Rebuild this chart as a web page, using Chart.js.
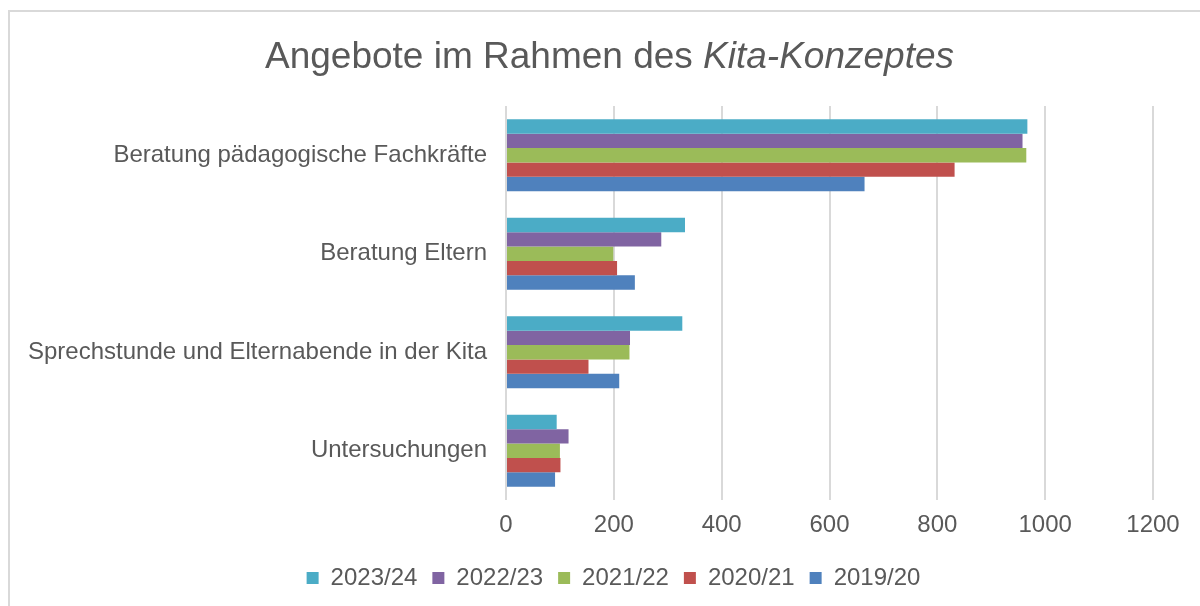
<!DOCTYPE html>
<html lang="de">
<head>
    <meta charset="UTF-8">
    <title>Angebote im Rahmen des Kita-Konzeptes</title>
    <script src="https://cdn.jsdelivr.net/npm/chart.js"></script>
    <style>
        body {
            margin: 0;
            width: 1200px;
            height: 606px;
            overflow: hidden;
            background: #fff;
            font-family: "Liberation Sans", Arial, sans-serif;
        }
        #frame {
            position: absolute;
            left: 8px;
            top: 10px;
            width: 1300px;
            height: 700px;
            border: 2px solid #d9d9d9;
        }
        #title {
            position: absolute;
            left: 0;
            top: 37px;
            width: 1219px;
            text-align: center;
            font-size: 37px;
            line-height: 1;
            color: #595959;
        }
        #chart {
            position: absolute;
            left: 0;
            top: 0;
        }
    </style>
</head>
<body>
    <div id="frame"></div>
    <canvas id="chart" width="1200" height="606"></canvas>
    <div id="title">Angebote im Rahmen des <i>Kita-Konzeptes</i></div>

    <script>
        const categories = [
            'Beratung pädagogische Fachkräfte',
            'Beratung Eltern',
            'Sprechstunde und Elternabende in der Kita',
            'Untersuchungen'
        ];
        const seriesNames = ['2023/24', '2022/23', '2021/22', '2020/21', '2019/20'];
        const values2324 = [967, 332, 327, 94];
        const values2223 = [958, 288, 230, 116];
        const values2122 = [965, 199, 229, 100];
        const values2021 = [832, 206, 153, 101];
        const values1920 = [665, 239, 210, 91];
        const xTicks = [0, 200, 400, 600, 800, 1000, 1200];

        const colors = ['#4bacc6', '#8064a2', '#9bbb59', '#c0504d', '#4f81bd'];
        const allValues = [values2324, values2223, values2122, values2021, values1920];

        const datasets = seriesNames.map((name, i) => ({
            label: name,
            data: allValues[i],
            backgroundColor: colors[i],
            borderWidth: 0,
            barPercentage: 1.0,
            categoryPercentage: 0.73
        }));

        const textColor = '#595959';
        const font = { family: '"Liberation Sans", Arial, sans-serif', size: 24 };

        // legend in the original sits a bit right of the canvas centre
        const shiftLegend = {
            id: 'shiftLegend',
            afterLayout: chart => {
                chart.legend.left += 27;
                chart.legend.right += 27;
            }
        };

        new Chart(document.getElementById('chart'), {
            type: 'bar',
            data: { labels: categories, datasets },
            plugins: [shiftLegend],
            options: {
                indexAxis: 'y',
                responsive: false,
                animation: false,
                layout: { padding: { top: 106, left: 20, right: 47, bottom: 6 } },
                plugins: {
                    title: { display: false },
                    tooltip: { enabled: false },
                    legend: {
                        position: 'bottom',
                        labels: {
                            color: textColor,
                            font: { ...font, lineHeight: 1 },
                            boxWidth: 12,
                            boxHeight: 12,
                            padding: 15
                        }
                    }
                },
                scales: {
                    x: {
                        min: 0,
                        max: 1200,
                        afterBuildTicks: axis => { axis.ticks = xTicks.map(v => ({ value: v })); },
                        afterFit: axis => { axis.height = 51; },
                        grid: { color: '#d9d9d9', lineWidth: 2, drawTicks: false },
                        border: { display: false },
                        ticks: { color: textColor, font, padding: 11, callback: v => String(v) }
                    },
                    y: {
                        afterFit: axis => { axis.width = 506 - 20; },
                        grid: { display: false, drawTicks: false },
                        border: { display: false },
                        ticks: { color: textColor, font, padding: 19 }
                    }
                }
            }
        });
    </script>
</body>
</html>
